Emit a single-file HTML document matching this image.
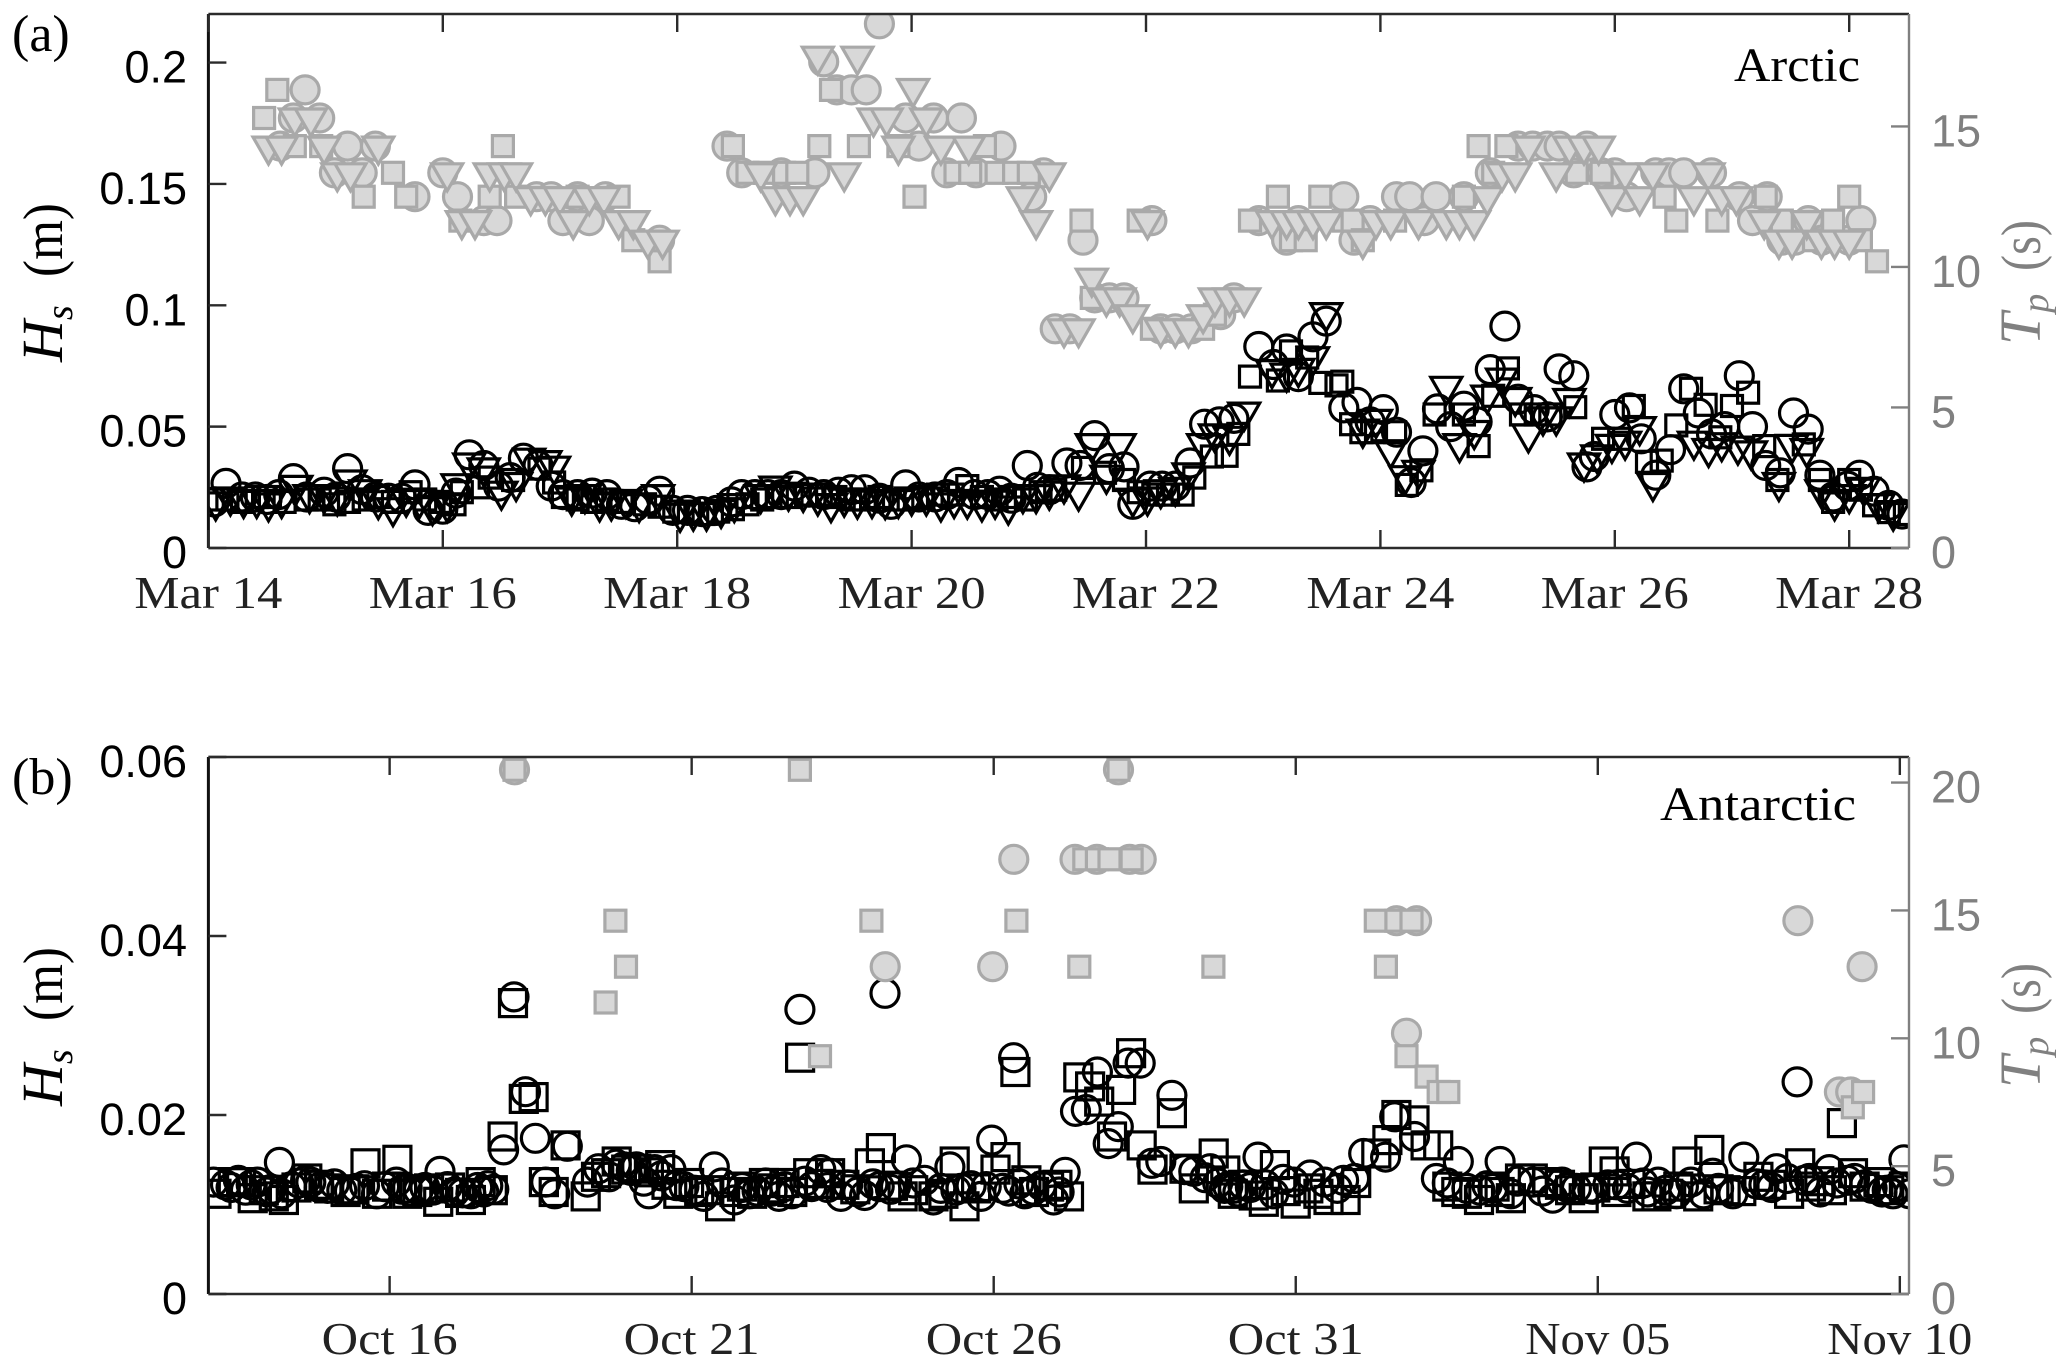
<!DOCTYPE html>
<html lang="en">
<head>
<meta charset="utf-8">
<title>Significant wave height and peak period, Arctic and Antarctic</title>
<style>
html,body{margin:0;padding:0;background:#fff;}
svg{display:block;}
text{white-space:pre;}
.tick-sans{font-family:"Liberation Sans",sans-serif;font-size:45px;}
.serif{font-family:"Liberation Serif",serif;}
</style>
</head>
<body>
<svg id="figure" xmlns="http://www.w3.org/2000/svg" width="2067" height="1367" viewBox="0 0 2067 1367">
  <defs>
    <clipPath id="clip-a"><rect x="208" y="14" width="1701" height="534"/></clipPath>
    <clipPath id="clip-b"><rect x="208" y="757" width="1701" height="537"/></clipPath>
  </defs>
  <rect x="0" y="0" width="2067" height="1367" fill="#fff"/>

  <g id="marks-a" clip-path="url(#clip-a)"></g>
  <g id="marks-b" clip-path="url(#clip-b)"></g>
  <g id="axes-a"></g>
  <g id="axes-b"></g>

  <text class="serif" x="12" y="51" font-size="52" fill="#000">(a)</text>
  <text class="serif" x="12" y="794" font-size="52" fill="#000">(b)</text>
  <text class="serif" x="1734" y="81" font-size="48" textLength="126" lengthAdjust="spacingAndGlyphs" fill="#000">Arctic</text>
  <text class="serif" x="1660" y="820" font-size="48" textLength="196" lengthAdjust="spacingAndGlyphs" fill="#000">Antarctic</text>

  <g class="serif" fill="#000">
    <text transform="translate(62,362) rotate(-90)" font-size="58" font-style="italic">H<tspan font-size="38" dy="10">s</tspan></text>
    <text transform="translate(62,277) rotate(-90)" font-size="56" textLength="74" lengthAdjust="spacingAndGlyphs">(m)</text>
  </g>
  <g class="serif" fill="#000">
    <text transform="translate(62,1106) rotate(-90)" font-size="58" font-style="italic">H<tspan font-size="38" dy="10">s</tspan></text>
    <text transform="translate(62,1021) rotate(-90)" font-size="56" textLength="74" lengthAdjust="spacingAndGlyphs">(m)</text>
  </g>
  <g class="serif" fill="#808080">
    <text transform="translate(2040,345) rotate(-90)" font-size="58" font-style="italic">T<tspan font-size="38" dy="8">p</tspan></text>
    <text transform="translate(2040,271) rotate(-90)" font-size="56" textLength="51" lengthAdjust="spacingAndGlyphs">(s)</text>
  </g>
  <g class="serif" fill="#808080">
    <text transform="translate(2040,1088) rotate(-90)" font-size="58" font-style="italic">T<tspan font-size="38" dy="8">p</tspan></text>
    <text transform="translate(2040,1014) rotate(-90)" font-size="56" textLength="51" lengthAdjust="spacingAndGlyphs">(s)</text>
  </g>
</svg>

<script>
// ---------- Panel (a) tick data ----------
const arcticDateTicks = [0, 2, 4, 6, 8, 10, 12, 14];
const arcticDateLabels = ["Mar 14", "Mar 16", "Mar 18", "Mar 20", "Mar 22", "Mar 24", "Mar 26", "Mar 28"];
const arcticHsTicks = [0, 0.05, 0.1, 0.15, 0.2];
const arcticHsTickLabels = ["0", "0.05", "0.1", "0.15", "0.2"];
const arcticTpTicks = [0, 5, 10, 15];
const arcticTpTickLabels = ["0", "5", "10", "15"];

// ---------- Panel (a) Hs series: time in 3-hour samples after Mar 14, Hs in mm ----------
const arcticHsCircleTime = [
0.4,1.2,2.3,3.2,4,4.8,5.8,6.7,7.9,8.7,
9.5,10.5,11.4,12.3,13.2,14.1,15,16,16.9,17.8,
18.8,19.8,20.6,21.5,22.5,23.4,24.2,25.2,26.2,27.2,
28.2,29.1,30,30.8,31.7,32.7,33.7,34.7,35.7,36.4,
37.3,38.2,39.1,40,41,42,43,43.9,44.8,45.8,
46.6,47.6,48.5,49.6,50.4,51.2,52.3,53.2,54,54.8,
55.9,56.6,57.4,58.6,59.5,60.5,61.5,62.5,63.1,64.3,
65.1,66,67,68,69,70,71.7,72.7,73.6,74.4,
75.4,76.3,77.5,78.4,79.3,80.2,81.1,82.1,82.9,83.9,
84.8,85.7,86.6,87.5,88.5,89.4,90.5,91.4,92.2,93.2,
94.1,94.6,96,97,97.8,98.8,99.8,100.7,101.7,102.6,
103.5,104.5,105.4,106.3,107.3,108.2,109.2,110,110.9,111.9,
112.7,113.7,114.7,115.6];
const arcticHsCircleValue = [
19,26.6,21,21,20,22,28.6,21,23,21,
32.7,24,21,20.5,20.5,26,15.5,16,22.6,38.4,
34,25.5,29,37,34,25.5,22,22,22.6,22,
18,17,20,23.4,15.5,15.5,15,15.5,19,22,
22,22,22,25.5,23,22,23,24,24,20.5,
18,26,21,21,22,27,22,22,23.4,20.5,
34,25,24,35,34,46.3,32.7,33.4,18,25.5,
25.5,25.5,35,51,52,53.4,83,75.6,82,70.6,
87,93.5,57.7,60,52,57,47.7,27,40,57.3,
50,58.4,52,73.5,91.4,61.3,57,54,73.8,71,
33.4,37.7,55,57.7,45,30,40.5,65.6,55.6,47,
50,71,50,34,31,55.6,49,30,21,25.5,
30,23.4,17.6,14];

const arcticHsSquareTime = [
0.3,1.3,2.3,3.3,4.2,5.2,6.7,7.6,8.6,9.6,
10.6,11.6,12.6,13.8,14.8,15.8,16.8,17.3,18.4,19.2,
20.8,22.6,23.6,24.2,25.2,26.2,27.2,28.2,29.8,30.8,
31.8,32.8,33.8,34.8,35.8,36.8,37.8,38.8,39.8,40.8,
41.8,42.8,43.8,44.8,45.8,46.8,47.8,48.8,49.8,50.8,
51.8,52.8,53.8,54.8,55.8,56.8,57.8,59.7,61.2,62.5,
63.5,64.5,65.5,66.5,67.3,68.5,69.5,70.3,71.1,73,
73.9,75,75.9,77,77.4,78,78.7,79.7,81,81.8,
82.8,83.7,85.7,86.7,87.7,88.7,89.6,90.6,91.6,93.3,
95.2,96.3,97.3,98.2,99.2,100.2,101.2,102.2,103.2,104,
105.1,106.2,107.1,108.9,110,110.9,112,112.8,113.7,114.7,
115.8];
const arcticHsSquareValue = [
20,20,19,21,21,19,20,20,18,19,
20,21,19,23,20,19,18,23,25,29,
28,32.7,27,21,20,19,20,19,18,17,
15,15,14,15,16,18,20,21,21,22,
22,21,20,20,21,20,20,21,22,22,
25.5,21,20,21,20,23,24,33,31,28,
23,22,22,22,29,37.7,38,47,70.6,69,
81,78.5,68,67,68.5,51,47.7,47.7,47.7,26,
32,55,55,42,62.7,74,55,55,55,58,
45,45,58.5,35.5,36,50.5,65.6,59,45.6,58.5,
64,42,28,42.7,28,19,28,24,17.6,14.8,
14];

const arcticHsTriangleTime = [
0.5,1.5,2.4,3.3,4.1,5,6,6.9,7.9,8.8,
9.7,10.7,11.6,12.6,13.5,14.4,15.3,16.3,17,17.8,
18.8,20,21,21.9,23,23.6,24.8,25.7,26.7,27.5,
28.5,29.4,30.7,32.2,33.1,34,35,35.9,37.7,38.7,
39.6,40.6,41.6,42.5,43.4,44.3,45.3,46.2,47.1,48,
49,50,50.9,51.8,52.8,53.7,54.6,55.6,56.5,57.4,
58.4,59.4,60.3,61.3,62.2,63.1,64.1,65,66,66.9,
67.9,68.7,69.7,70.7,72.6,73.6,74.4,75.4,76.3,78.8,
79.7,80.7,81.7,82.6,84.5,85.4,86.4,87.3,88.3,89.2,
90.1,91.1,92,92.9,93.9,94.8,95.8,96.7,97.7,98.6,
101.4,102.4,103.3,104.4,105.3,107.2,108.1,109.1,110.1,111,
112,113,114,115];
const arcticHsTriangleValue = [
19,21,20,20,18.6,20,25.8,22,22,21,
28,24,19.5,16.6,20.5,20,17,18.3,26.5,35,
33,23.4,27,37,36,33.7,21,22,18.6,19,
20,18.3,22,14.3,14.8,14.8,15.9,18.3,22,25.5,
23,22.5,21,18.3,20.5,19.7,20,19.5,20,21,
21,18.6,20,19.7,18.6,19.7,17.3,22,22,23.4,
26,23,43,30,43,20.5,21,24,25,31,
43,47,46,56,73.5,72,74,78.8,97,49,
53,40.5,29.8,32,66.6,43,48.4,63,70,62,
47,54,54,61.6,35,38.4,42.7,44,50,27,
44,41,43.4,42,40,27,42.7,41,24,19,
22,25,18.3,14.8];

// ---------- Panel (a) Tp series: time in 3-hour samples, Tp in seconds ----------
const arcticTpCircleTime = [
4.9,5.8,6.6,7.6,8.6,9.5,10.5,11.4,14.1,16,
17,18.8,19.7,22.4,23.4,24.2,25.2,26,27.1,30.8,
35.4,36.4,39.1,41.4,42,42.9,43.9,44.9,45.8,47.6,
48.5,49.5,50.4,51.4,52.4,54.1,56.2,57,57.8,58.8,
59.7,60.5,61.5,62.5,64.4,65,66,67.1,69.1,70,
71.7,73.6,74.4,77.5,78.2,79.3,81.1,82,83,83.8,
85.7,87.5,89.4,90.4,91.4,92.2,93.2,94.1,95.1,96,
96.8,98.8,99.7,100.7,102.6,104.5,105.4,106.4,107.4,108.3,
109.2,110.1,112,112.8];
const arcticTpCircleValue = [
14.3,15.3,16.3,15.3,13.35,14.3,13.35,14.3,12.5,13.35,
12.5,11.65,11.65,12.5,12.5,11.65,12.5,11.65,12.5,10.95,
14.3,13.35,13.35,13.35,17.3,16.3,16.3,16.3,18.65,15.3,
14.3,15.3,13.35,15.3,13.35,14.3,12.5,13.35,7.8,7.8,
10.95,8.9,8.9,8.9,11.65,7.8,7.8,7.8,8.3,8.9,
11.65,10.95,11.65,12.5,10.95,11.65,12.5,12.5,11.65,12.5,
12.5,13.35,14.3,14.3,14.3,14.3,13.35,14.3,13.35,13.35,
12.5,13.35,13.35,13.35,13.35,12.5,11.65,12.5,10.95,10.95,
11.65,10.95,10.95,11.65];

const arcticTpSquareTime = [
3.8,4.7,5.9,7.7,10.6,12.6,13.5,17.2,19.2,20.1,
21,25.2,28,29,30.8,35.8,36.8,38,39.3,40.2,
41.7,42.5,44.4,47.1,48.2,51,52,53,53.8,55,
56,59.6,60.3,63.5,64.4,67.9,68.7,71.1,73,73.9,
74.9,75.9,77.5,78.1,78.8,81,85.7,86.7,87.7,88.6,
93.4,95.1,99.4,100.2,103,106.3,107.4,109.6,110.9,112,
112.8,113.9];
const arcticTpSquareValue = [
15.3,16.3,14.3,14.3,12.5,13.35,12.5,11.65,12.5,14.3,
12.5,12.5,12.5,10.95,10.2,14.3,13.35,13.35,13.35,13.35,
14.3,16.3,14.3,14.3,12.5,13.35,13.35,14.3,13.35,13.35,
13.35,11.65,8.9,11.65,7.8,7.8,8.3,11.65,12.5,10.95,
10.95,12.5,11.65,11.65,10.95,11.65,12.5,14.3,13.35,14.3,
13.35,13.35,12.5,11.65,11.65,12.5,11.65,10.95,11.65,12.5,
10.95,10.2];

const arcticTpTriangleTime = [
4.1,5,5.9,7,7.9,8.8,9.7,11.6,16.3,17.3,
18.2,19.2,20.2,21,22,23,24,24.9,26,27,
28,29,30,31,37.7,38.7,39.7,40.6,41.6,43.4,
44.3,45.4,46.3,47.1,48.1,49,50,51.9,55.6,56.5,
57.4,58.4,59.4,60.3,61.3,62.2,63.1,64.1,65,66,
66.9,67.9,68.7,69.7,70.7,72.6,73.6,74.4,75.4,76.3,
78.8,79.7,80.7,82.6,84.5,85.4,86.4,87.3,88.3,89.2,
90.1,92,92.9,93.9,94.9,95.8,96.7,97.7,98.6,101.4,
102.4,103.3,104.3,106.2,107.2,108.1,109.1,110.1,111,112];
const arcticTpTriangleValue = [
14.3,14.3,15.3,15.3,14.3,13.35,13.35,14.3,13.35,11.65,
11.65,13.35,13.35,13.35,12.5,12.5,12.5,11.65,12.5,12.5,
11.65,11.65,10.95,10.95,13.35,12.5,12.5,12.5,17.5,13.35,
17.5,15.3,15.3,14.3,16.35,15.3,14.3,14.3,12.5,11.65,
13.35,7.8,7.8,9.6,8.9,8.9,8.3,11.65,7.8,7.8,
7.8,8.3,8.9,8.9,8.9,11.65,11.65,11.65,11.65,11.65,
10.95,11.65,11.65,11.65,11.65,11.65,11.65,12.5,13.35,13.35,
14.3,13.35,14.3,14.3,14.3,12.5,13.35,12.5,13.35,12.5,
13.35,12.5,12.5,11.65,10.95,10.95,11.65,10.95,10.95,10.95];

// ---------- Panel (b) tick data ----------
const antarcticDateTicks = [72, 192, 312, 432, 552, 672];
const antarcticDateLabels = ["Oct 16", "Oct 21", "Oct 26", "Oct 31", "Nov 05", "Nov 10"];
const antarcticHsTicks = [0, 0.02, 0.04, 0.06];
const antarcticHsTickLabels = ["0", "0.02", "0.04", "0.06"];
const antarcticTpTicks = [0, 5, 10, 15, 20];
const antarcticTpTickLabels = ["0", "5", "10", "15", "20"];

// ---------- Panel (b) series: time in hours after Oct 13, Hs in mm, Tp in seconds ----------
const antarcticHsCircleTime = [
6.8,11.9,14.7,19.5,23.4,28.2,29.2,38.6,40.7,47.3,
53,58.8,66.8,74.7,79,83.4,89.2,92,97.8,104.3,
109.4,113.4,117.3,121.4,126,129.9,134,137.6,142.6,150.6,
159.2,165,170,175,177.3,183.8,188.9,196.8,201,209,
215,221.4,226.7,231.8,235,239.7,243.3,247,251.3,260.7,
266.5,268.8,273,277.3,284.5,288,294.6,299,307,311.2,
315.6,319.9,324.3,327.9,335.8,340.4,344.5,348.8,353.2,357.5,
361.5,365.4,370.2,374.8,378.4,382.8,387.8,391.5,398,403.7,
407.3,411,417,423.3,431.2,437.7,443.5,448.5,451,455.4,
459,467.7,471.3,479.2,487.9,492.2,496.6,505.2,510.3,513.2,
517.5,526.2,534.1,537.8,543.5,547.9,559.4,563.8,567.4,571.7,
576,583.3,589,594,597.7,605.7,610,618,623,627.3,
631.2,636,640.4,644,651.2,654,664.9,669.3,673.6,675.8];
const antarcticHsCircleValue = [
12.2,12.7,11.6,12.5,11.4,14.7,11.2,12.7,12.5,11.8,
11.6,11.8,11.2,12.5,11.8,11.6,11.6,13.7,11.4,11.2,
11.4,11.7,16.1,33.2,22.6,17.4,12.5,11.2,16.5,12.5,
13.1,14.2,14.2,11.2,13.9,13.9,12,10.9,14.2,10.5,
11.2,12.4,10.9,11.2,31.8,12,13.9,13.5,10.9,11,
12,33.6,12,15,12.7,10.5,14.2,11.8,10.9,17.2,
11.8,26.4,11.2,11.6,10.5,13.6,20.4,20.6,24.8,16.8,
18.7,25.8,25.8,14.6,14.8,22.2,13.9,13.7,14,11.8,
11.8,12.2,15.3,11.2,12.5,13.3,12.5,11.8,12.7,12.9,
15.7,15.3,19.8,17.6,12.9,12.4,14.8,11.6,11.8,14.8,
11.2,12.5,10.7,12.5,11.8,11.8,12.2,11.8,15.3,11.4,
12.5,11.2,12.5,11.2,13.5,11.2,15.3,12.2,14,12.9,
23.7,12.9,11.4,13.9,12.7,12.9,11.4,11.2,15,11.2];

// Overlapping circles inside the dense low band
const antarcticHsBandCircleTime = [
2,9,17,25,33,36,44,50,56,62,70,77,86,95,101,107,111,
155,162,168,173,180,186,193,204,212,218,
224,229,237,246,254,258,264,271,280,291,297,303,309,318,322,331,338,
396,401,405,409,414,420,427,
500,508,520,530,540,550,556,570,579,586,600,615,621,634,647,658,661,667,671];
const antarcticHsBandCircleValue = [
12.5,11.9,12.2,11.7,12,12.4,11.9,12.3,11.5,12.1,12,11.7,11.9,12,11.3,11.9,12.1,
14,14.5,13.8,12.6,13.2,12.1,11.6,12.4,11.9,11.5,
11.5,12,12.6,11.9,12.2,11.4,12.3,11.7,12.4,11.8,11.6,12.1,12,11.5,12.3,12.1,11.4,
13,12.4,12,11.4,11.9,12.2,12.8,
11.8,12.1,12.6,11.5,11.9,11.7,12.2,12.4,11.6,12,11.8,12.3,11.9,12.7,12.4,12.2,11.8,11.6,12];

const antarcticHsSquareTime = [
3.2,9.7,17.6,30,39.3,48,54.5,62.4,75.1,79,
87.7,91.3,104.3,108.2,113,116.9,121,125.3,129.2,133.3,
137.2,141.9,149.9,158,162.2,170,179.5,186.7,191,199,
203.3,209,220.7,228.9,235.1,238.3,247,252.7,262.8,267.2,
275.8,288.1,296.5,300.4,312.7,316.7,320.6,325,334,337.3,
341.9,345.6,350.3,353.9,359,362.6,366.6,370.8,375.1,382.8,
387.8,391.5,399.4,407,415.3,419.3,423.7,432,445,451.8,
456,464,468.4,472,479.2,483.6,488.6,492.2,495.8,504.8,
517.5,521.1,526.2,532,546.4,554.4,558.7,559.4,571.7,575.3,
587.6,591.9,596.3,602.8,615.8,628,632.4,636.7,649,653.4,
663.5,667.8,673.6];
const antarcticHsSquareValue = [
11.2,12.5,10.7,10.5,12.9,11.8,11.4,14.6,15,11.2,
11.8,10.3,10.5,12.5,11.6,17.6,32.5,21.8,22,12.5,
11.4,16.6,10.9,13.5,14.8,14,14.4,11.2,12.4,11.6,
9.8,11.4,12.4,12.4,26.4,13.5,13.5,12.2,14.6,16.3,
10.9,10.9,14.8,9.8,13.9,15.3,24.8,12.7,12,12.2,
10.9,24.2,23.2,21.5,17.6,22.8,26.9,16.6,13.9,20.2,
14,11.8,15.7,11.2,11,10.3,14.4,10.1,10.5,10.5,
12.4,15.7,17.2,20,19.4,16.6,16.6,12,11.4,10.5,
10.7,12.9,12.9,12.5,10.7,14.8,13.7,11.4,10.9,10.9,
14.8,10.9,16.1,11.6,13.1,11.2,14.6,12,19.1,13.5,
12.5,11.6,12];

// Overlapping squares inside the dense low band
const antarcticHsBandSquareTime = [
13,22,26,35,44,58,67,71,83,96,100,
154,166,175,182,195,212,216,224,
232,243,257,272,280,292,305,328,
404,411,428,437,441,
500,511,513,537,541,551,565,580,584,600,609,621,640,645,658];
const antarcticHsBandSquareValue = [
12.5,11.6,10.9,11.9,12.2,11.7,11.2,12,11.4,11.9,11.3,
13.1,13.9,13.6,12.2,11.4,12,11.2,11.8,
11.4,12.3,11.7,12.1,11.6,11.2,11.8,11.4,
13.8,12.2,11.5,11.8,11.2,
11.2,12,11.4,12.2,11.6,11.9,12.3,11.2,12,11.7,11.5,12.2,12.6,11.6,12];

const antarcticTpCircleTime = [121.6,268.9,311.6,320,344.3,353,366,370.6,361.6,472,480,476,631.5,657,648,652.5];
const antarcticTpCircleValue = [20.5,12.8,12.8,17,17,17,17,17,20.5,14.6,14.6,10.2,14.6,12.8,7.9,7.9];
const antarcticTpSquareTime = [121.6,157.8,161.7,165.9,235,243,263.4,321,346,348,353,358,361.6,366.8,399.3,463.8,467.8,472,478,476,484,488.8,492.6,653.3,657.4];
const antarcticTpSquareValue = [20.5,11.4,14.6,12.8,20.5,9.3,14.6,14.6,12.8,17,17,17,20.5,17,12.8,14.6,12.8,14.6,14.6,9.3,8.5,7.9,7.9,7.3,7.9];

// ---------- Axis functions ----------
const PLOT_LEFT = 208.4, PLOT_RIGHT = 1909;
function xArctic(sample) { return PLOT_LEFT + (sample / 8) * 117.2; }
function xArcticDay(day) { return PLOT_LEFT + day * 117.2; }
function yArcticHsMm(mm) { return 548 - (mm / 220) * 534; }
function yArcticTp(s) { return 548 - (s / 19) * 534; }
function xAntarctic(hours) { return PLOT_LEFT + hours * 2.517; }
function yAntarcticHsMm(mm) { return 1294 - (mm / 60) * 537; }
function yAntarcticTp(s) { return 1294 - (s / 21) * 537; }

const SVGNS = "http://www.w3.org/2000/svg";
function make(tag, attrs, parent) {
  const el = document.createElementNS(SVGNS, tag);
  for (const k in attrs) el.setAttribute(k, attrs[k]);
  parent.appendChild(el);
  return el;
}

const BLACK_STYLE = { stroke: "#000", fill: "none", sw: 3.2 };
const GRAY_STYLE = { stroke: "#a9a9a9", fill: "#d8d8d8", sw: 3.2 };

function drawCircles(parent, times, values, xf, yf, style, name) {
  const n = Math.min(times.length, values.length);
  for (let i = 0; i < n; i++) {
    const el = make("circle", { cx: xf(times[i]).toFixed(1), cy: yf(values[i]).toFixed(1), r: 14, stroke: style.stroke, fill: style.fill, "stroke-width": style.sw }, parent);
    
    
  }
}
function drawSquares(parent, times, values, xf, yf, style, side, name) {
  const n = Math.min(times.length, values.length);
  for (let i = 0; i < n; i++) {
    const el = make("rect", { x: (xf(times[i]) - side / 2).toFixed(1), y: (yf(values[i]) - side / 2).toFixed(1), width: side, height: side, stroke: style.stroke, fill: style.fill, "stroke-width": style.sw }, parent);
    
    
  }
}
function drawTriangles(parent, times, values, xf, yf, style, name) {
  const n = Math.min(times.length, values.length);
  for (let i = 0; i < n; i++) {
    const cx = xf(times[i]), cy = yf(values[i]);
    const pts = [[cx - 15.5, cy - 9], [cx + 15.5, cy - 9], [cx, cy + 18]].map(p => p[0].toFixed(1) + "," + p[1].toFixed(1)).join(" ");
    const el = make("polygon", { points: pts, stroke: style.stroke, fill: style.fill, "stroke-width": style.sw }, parent);
    
    
  }
}

function drawAxes(parent, top, bottom, cfg) {
  const dark = "#2b2b2b", gray = "#808080";
  const frame = [
    ["top-spine", PLOT_LEFT, top, PLOT_RIGHT, top, dark, 2.6],
    ["bottom-spine", PLOT_LEFT, bottom, PLOT_RIGHT, bottom, dark, 2.6],
    ["left-spine", PLOT_LEFT, top, PLOT_LEFT, bottom, "#111", 3],
    ["right-spine", PLOT_RIGHT, top, PLOT_RIGHT, bottom, gray, 2.4]
  ];
  frame.forEach(function (f) {
    const el = make("line", { x1: f[1], y1: f[2], x2: f[3], y2: f[4], stroke: f[5], "stroke-width": f[6] }, parent);
    
    
  });
  cfg.xTicks.forEach(function (tv, i) {
    const x = cfg.xf(tv);
    const t1 = make("line", { x1: x, y1: bottom, x2: x, y2: bottom - 18, stroke: dark, "stroke-width": 2.4 }, parent);
    
    
    const t2 = make("line", { x1: x, y1: top, x2: x, y2: top + 18, stroke: dark, "stroke-width": 2.4 }, parent);
    
    
    const label = make("text", { x: x, y: cfg.xBase, "text-anchor": "middle", "font-size": 46, fill: "#222", "font-family": '"Liberation Serif",serif', textLength: cfg.xWidths[i], lengthAdjust: "spacingAndGlyphs" }, parent);
    label.textContent = cfg.xLabels[i];
    
    
  });
  cfg.hsTicks.forEach(function (tv, i) {
    const y = cfg.hsY(tv * 1000);
    const t = make("line", { x1: PLOT_LEFT, y1: y, x2: PLOT_LEFT + 18, y2: y, stroke: dark, "stroke-width": 2.4 }, parent);
    
    
    const label = make("text", { x: 187, y: y + 20, "text-anchor": "end", class: "tick-sans", fill: "#000" }, parent);
    label.textContent = cfg.hsLabels[i];
    
    
  });
  cfg.tpTicks.forEach(function (tv, i) {
    const y = cfg.tpY(tv);
    const t = make("line", { x1: PLOT_RIGHT - 18, y1: y, x2: PLOT_RIGHT, y2: y, stroke: gray, "stroke-width": 2.4 }, parent);
    
    
    const label = make("text", { x: 1931, y: y + 20, "text-anchor": "start", class: "tick-sans", fill: "#808080" }, parent);
    label.textContent = cfg.tpLabels[i];
    
    
  });
}

// ---------- Draw panel (a) ----------
const marksA = document.getElementById("marks-a");
drawCircles(marksA, arcticHsCircleTime, arcticHsCircleValue, xArctic, yArcticHsMm, BLACK_STYLE, "arctic-hs-circle");
drawSquares(marksA, arcticHsSquareTime, arcticHsSquareValue, xArctic, yArcticHsMm, BLACK_STYLE, 21, "arctic-hs-square");
drawTriangles(marksA, arcticHsTriangleTime, arcticHsTriangleValue, xArctic, yArcticHsMm, BLACK_STYLE, "arctic-hs-triangle");
drawCircles(marksA, arcticTpCircleTime, arcticTpCircleValue, xArctic, yArcticTp, GRAY_STYLE, "arctic-tp-circle");
drawSquares(marksA, arcticTpSquareTime, arcticTpSquareValue, xArctic, yArcticTp, GRAY_STYLE, 21, "arctic-tp-square");
drawTriangles(marksA, arcticTpTriangleTime, arcticTpTriangleValue, xArctic, yArcticTp, GRAY_STYLE, "arctic-tp-triangle");

drawAxes(document.getElementById("axes-a"), 14, 548, {
  xTicks: arcticDateTicks, xLabels: arcticDateLabels, xf: xArcticDay, xBase: 608,
  xWidths: arcticDateLabels.map(function () { return 148; }),
  hsTicks: arcticHsTicks, hsLabels: arcticHsTickLabels, hsY: yArcticHsMm,
  tpTicks: arcticTpTicks, tpLabels: arcticTpTickLabels, tpY: yArcticTp
});

// ---------- Draw panel (b) ----------
const marksB = document.getElementById("marks-b");
drawCircles(marksB, antarcticHsCircleTime, antarcticHsCircleValue, xAntarctic, yAntarcticHsMm, BLACK_STYLE, "antarctic-hs-circle");
drawCircles(marksB, antarcticHsBandCircleTime, antarcticHsBandCircleValue, xAntarctic, yAntarcticHsMm, BLACK_STYLE, "antarctic-hs-circle");
drawSquares(marksB, antarcticHsSquareTime, antarcticHsSquareValue, xAntarctic, yAntarcticHsMm, BLACK_STYLE, 27, "antarctic-hs-square");
drawSquares(marksB, antarcticHsBandSquareTime, antarcticHsBandSquareValue, xAntarctic, yAntarcticHsMm, BLACK_STYLE, 27, "antarctic-hs-square");
drawCircles(marksB, antarcticTpCircleTime, antarcticTpCircleValue, xAntarctic, yAntarcticTp, GRAY_STYLE, "antarctic-tp-circle");
drawSquares(marksB, antarcticTpSquareTime, antarcticTpSquareValue, xAntarctic, yAntarcticTp, GRAY_STYLE, 21, "antarctic-tp-square");

drawAxes(document.getElementById("axes-b"), 757, 1294, {
  xTicks: antarcticDateTicks, xLabels: antarcticDateLabels, xf: xAntarctic, xBase: 1354,
  xWidths: antarcticDateLabels.map(function (s) { return s.indexOf("Nov") === 0 ? 145 : 136; }),
  hsTicks: antarcticHsTicks, hsLabels: antarcticHsTickLabels, hsY: yAntarcticHsMm,
  tpTicks: antarcticTpTicks, tpLabels: antarcticTpTickLabels, tpY: yAntarcticTp
});
</script>
</body>
</html>
